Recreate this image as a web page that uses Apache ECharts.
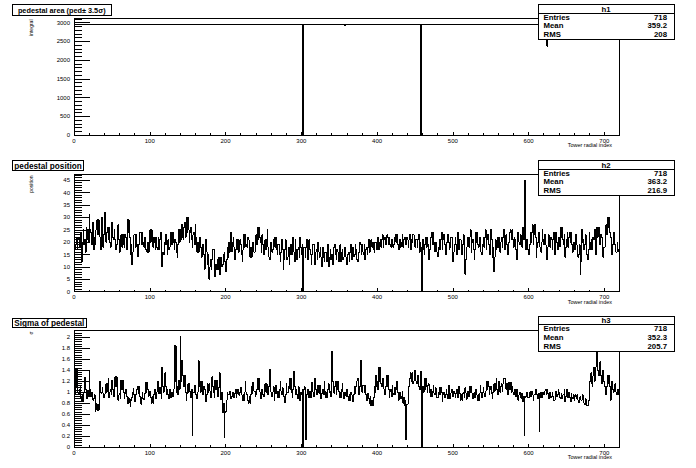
<!DOCTYPE html>
<html><head><meta charset="utf-8">
<script src="https://cdn.jsdelivr.net/npm/echarts@6/dist/echarts.min.js"></script>
<style>html,body{margin:0;padding:0;background:#fff}#c{width:696px;height:468px}
#c svg path{shape-rendering:crispEdges}</style>
</head><body><div id="c"></div>
<script>
// ---------- data ----------
const xRange = [0, 720];
const titles = ['pedestal area (ped\u00b1 3.5\u03c3)', 'pedestal position', 'Sigma of pedestal'];
const yTitles = ['integral', 'position', '\u03c3'];
const xTitle = 'Tower radial index';
const statNames = ['h1', 'h2', 'h3'];
const statEntries = ['718', '718', '718'];
const statMeans = ['359.2', '363.2', '352.3'];
const statRMS = ['208', '216.9', '205.7'];
const yMax = [3110, 47.3, 2.122];
const yStep = [500, 5, 0.2];

// panel 1: [from, to, value] runs of tower index
const areaRuns = [
  [0, 302, 2955], [302, 303, 0], [303, 357, 2955], [357, 358, 2925],
  [358, 458, 2955], [458, 459, 0], [459, 624, 2955], [624, 625, 2370], [625, 718, 2955]
];

// panels 2 and 3: one value per tower index (0..719)
const binWidth = 1;
const positionValues = [
  21,17,19,22,17,21,22,18,21,24,12,20,25,19,21,16,26,21,25,20,
  31,25,24,19,24,28,17,22,19,25,29,23,29,24,22,17,30,24,18,23,
  32,25,20,24,26,21,26,20,18,23,28,22,21,25,21,17,19,24,27,21,
  16,21,23,18,23,19,18,23,22,17,29,24,29,22,15,19,11,16,19,23,
  23,18,23,19,14,19,20,24,24,19,24,20,18,22,21,17,16,20,16,21,
  25,20,25,19,18,22,20,17,22,18,17,22,17,21,24,18,10,16,15,20,
  19,23,19,15,21,17,18,22,24,19,24,20,17,21,20,16,14,19,25,20,
  25,21,27,22,21,26,28,22,30,24,30,25,20,24,26,21,18,23,24,19,
  27,22,16,20,16,21,22,18,14,18,19,15,9,14,21,16,11,15,5,10,
  13,9,13,17,17,12,6,11,9,13,9,14,7,11,14,10,11,15,16,12,
  8,13,18,14,20,16,20,24,16,20,22,18,13,17,21,17,21,16,17,21,
  19,15,12,17,23,18,23,19,18,22,21,17,14,18,14,19,20,16,16,20,
  23,19,26,21,26,22,20,16,23,19,15,19,21,17,21,25,18,14,13,17,
  20,16,17,21,22,18,22,17,15,19,19,15,12,16,21,17,9,13,17,21,
  17,13,14,18,11,15,19,15,19,22,16,12,21,17,13,17,18,14,22,18,
  15,19,0,18,18,14,18,21,13,17,21,17,15,11,15,19,19,15,11,16,
  17,13,20,16,14,18,14,10,18,14,12,16,16,12,16,19,10,14,17,13,
  15,11,15,18,19,15,13,17,16,12,16,19,12,16,17,13,14,18,18,14,
  11,15,16,12,16,19,13,17,18,14,15,19,17,13,12,16,16,20,19,15,
  19,16,15,19,13,17,18,15,18,21,16,20,21,18,20,17,16,20,20,17,
  19,22,17,20,21,18,21,23,18,21,22,19,20,23,22,19,22,19,18,21,
  21,18,19,22,23,20,23,19,17,21,21,18,20,23,18,21,22,19,19,22,
  21,18,21,23,17,21,20,23,23,19,18,21,21,18,21,23,16,20,18,0,
  21,17,15,19,22,18,22,19,13,17,18,22,24,19,24,20,16,20,20,16,
  14,18,21,17,21,24,17,21,23,19,15,19,20,23,20,17,18,22,22,18,
  12,16,19,22,19,15,24,20,17,21,21,17,15,19,23,19,7,13,18,22,
  22,18,22,25,16,20,21,17,13,17,24,20,24,19,18,22,20,16,15,19,
  22,18,22,25,17,21,23,19,19,15,25,21,14,18,8,14,21,17,18,22,
  18,22,16,20,22,18,22,25,17,21,23,19,15,19,20,24,25,21,25,21,
  18,22,21,17,13,18,24,20,19,23,22,18,26,21,27,45,17,21,21,17,
  15,19,24,20,24,27,19,23,27,22,14,18,20,24,22,18,16,20,25,21,
  19,23,19,15,13,18,23,19,18,22,21,17,21,24,15,19,24,20,17,21,
  22,18,26,22,26,21,19,23,14,18,21,24,18,22,24,20,24,19,16,20,
  20,17,23,19,18,14,15,19,7,12,25,20,21,17,19,23,19,15,13,17,
  24,20,17,21,17,22,21,25,15,19,26,22,26,21,19,23,22,18,14,18,
  18,22,27,23,30,26,30,24,22,18,15,19,24,20,19,16,16,20,17,16
];
const sigmaValues = [
  1.05,0.95,1.42,1.1,1.42,1.0,0.95,1.05,1.1,0.9,0.82,0.95,0.82,1.0,1.27,1.05,0.97,0.88,1.03,0.92,
  1.38,1.05,0.92,1.0,0.92,0.85,0.88,0.95,0.65,0.8,0.67,0.78,0.67,0.9,1.2,1.0,0.98,1.08,0.98,0.9,
  0.96,1.05,1.15,1.0,1.15,1.25,0.9,1.0,1.05,0.95,1.22,1.05,0.92,1.0,1.28,1.1,1.28,1.0,0.85,0.95,
  0.98,0.88,1.22,1.05,1.22,1.0,0.88,0.98,1.05,0.92,0.8,0.9,0.8,0.88,0.74,0.85,0.9,1.0,1.07,0.95,
  0.83,0.95,0.95,1.05,1.1,0.98,1.1,0.92,0.78,0.9,1.0,0.88,0.86,0.97,1.18,1.0,1.18,1.05,0.92,1.02,
  1.02,0.9,0.8,0.92,0.8,0.95,1.05,0.92,0.88,1.0,1.2,1.05,0.97,1.08,0.97,0.88,1.45,1.1,1.0,1.12,
  1.35,1.1,0.95,1.05,0.95,0.88,1.05,0.92,0.9,1.0,0.92,1.05,1.84,1.2,1.84,1.0,1.1,0.95,1.22,1.05,
  2.02,1.2,1.57,1.3,1.3,1.1,1.3,1.0,0.85,0.98,1.15,1.0,1.15,1.02,0.9,1.05,0.21,1.0,1.0,1.12,
  1.1,0.95,0.88,1.0,1.57,1.1,1.2,1.0,1.2,1.05,0.95,1.1,1.05,0.9,0.82,0.95,1.15,1.0,1.15,1.02,
  0.9,1.05,1.28,1.1,1.0,0.9,1.22,1.05,1.22,1.0,0.92,1.08,1.35,1.1,0.86,1.0,0.62,0.8,0.17,0.62,
  0.65,0.85,1.0,0.95,0.95,1.02,0.95,0.88,0.92,1.0,0.97,0.9,0.97,1.05,0.9,0.98,1.05,0.95,0.94,1.0,
  1.08,0.95,0.85,0.95,0.85,1.0,1.2,1.0,0.95,0.85,0.8,0.92,0.8,0.95,1.1,0.98,1.18,1.02,1.02,0.92,
  0.95,1.05,1.25,1.05,1.25,1.0,0.88,1.0,1.05,0.95,0.92,1.05,1.15,1.0,1.15,1.02,0.95,1.1,1.41,1.1,
  1.0,0.92,1.0,1.1,0.85,0.98,1.12,0.98,0.9,1.02,0.9,1.05,1.2,1.02,0.95,1.08,1.05,0.92,0.8,0.95,
  1.15,1.0,1.0,1.1,1.25,1.05,1.25,1.0,0.9,1.05,1.38,1.1,0.95,1.05,0.95,0.88,1.1,0.98,0.85,1.0,
  0.95,1.05,0,1.05,1.1,0.95,0.13,0.95,1.05,0.92,0.9,1.02,0.9,1.05,1.18,1.0,0.92,1.05,1.25,1.05,
  0.95,1.05,1.12,0.98,1.12,1.0,0.88,0.98,1.05,0.95,1.2,1.02,0.9,1.0,0.9,1.05,1.15,1.0,1.02,0.92,
  1.75,1.2,1.1,0.98,1.1,1.2,0.95,1.05,1.2,1.02,0.9,1.0,0.9,1.05,1.15,1.0,0.88,1.0,1.0,0.92,
  1.05,0.92,0.85,0.95,0.85,1.0,0.95,0.88,0.82,0.95,1.1,0.98,1.1,1.2,1.25,1.05,0.95,1.1,1.58,1.2,
  1.0,1.12,1.12,1.0,1.12,0.95,0.85,0.98,0.98,0.88,0.8,0.92,0.75,0.85,0.75,0.9,1.1,1.0,1.3,1.1,
  1.2,1.05,1.45,1.2,1.45,1.15,1.1,1.25,1.25,1.05,0.95,1.1,1.3,1.1,1.3,1.05,0.9,1.02,1.05,0.92,
  1.12,0.98,0.95,1.08,0.95,1.05,1.2,1.0,0.85,0.98,1.0,0.88,0.92,1.02,0.8,0.9,0.75,0.85,0.13,0.78,
  0.78,0.9,1.1,1.25,1.35,1.2,1.35,1.15,1.2,1.35,1.4,1.2,1.15,1.3,1.3,1.1,1.05,1.2,1.38,0,
  1.1,1.0,1.25,1.05,1.25,1.1,1.0,1.12,1.15,1.0,0.92,1.05,0.92,1.02,1.12,0.98,0.95,1.08,1.0,0.9,
  0.9,1.0,1.08,0.95,1.08,1.0,0.82,0.95,1.0,0.9,0.95,1.05,0.95,0.88,1.12,1.0,0.88,0.98,1.05,0.95,
  0.92,1.02,0.98,0.9,0.98,1.05,0.9,1.0,1.1,0.98,0.85,0.95,0.85,0.98,1.0,0.9,1.08,0.98,0.87,0.97,
  1.02,0.92,1.1,1.0,1.1,0.98,0.88,0.98,1.0,0.9,1.05,0.95,0.85,0.95,0.85,0.98,1.12,1.0,0.9,1.0,
  1.08,0.98,0.92,1.02,1.2,1.05,1.2,1.1,0.95,1.05,1.1,0.98,0.88,1.0,1.15,1.02,1.15,1.25,1.05,0.95,
  1.2,1.05,1.0,1.1,1.15,1.02,1.15,1.25,1.25,1.1,1.05,1.15,0.95,1.05,1.18,1.05,1.18,1.0,1.1,1.0,
  0.95,1.05,1.05,0.92,1.05,0.95,0.85,0.95,1.0,0.9,0.88,0.98,0.82,0.92,0.21,0.9,0.92,1.0,1.0,0.9,
  0.9,1.0,1.02,0.92,1.02,0.95,0.85,0.95,0.95,1.05,1.05,0.95,0.88,0.98,0.28,0.9,1.0,0.9,0.9,1.0,
  0.95,1.02,1.05,0.95,1.05,0.98,0.88,0.98,1.0,0.9,0.92,1.0,0.92,0.85,0.85,0.95,1.02,0.92,0.95,1.05,
  1.0,0.9,0.88,0.98,0.88,0.95,0.95,1.05,0.82,0.92,1.05,0.95,0.9,1.0,0.9,0.82,0.98,0.9,0.88,0.95,
  0.85,0.92,0.95,0.88,0.95,0.85,0.8,0.9,0.92,0.85,0.86,0.95,0.86,0.8,0.78,0.88,0.82,0.75,0.76,0.85,
  1.0,1.2,1.35,1.15,1.1,1.3,1.45,1.2,1.45,1.6,1.73,1.4,1.3,1.45,1.55,1.3,1.15,1.3,1.4,1.2,
  1.1,0.98,0.95,1.1,1.3,1.15,1.3,1.1,0.85,1.0,1.2,1.05,1.0,1.12,1.15,1.0,0.95,1.05,0.95,1.05
];

// ---------- build step data ----------
function runsToSteps(runs){
  const pts = runs.map(r => [r[0], r[2]]);
  const last = runs[runs.length - 1];
  pts.push([last[1], last[2]]);
  return pts;
}
function binsToSteps(vals, w){
  const pts = vals.map((v, i) => [i * w, v]);
  pts.push([vals.length * w, vals[vals.length - 1]]);
  return pts;
}
const seriesData = [runsToSteps(areaRuns), binsToSteps(positionValues, binWidth), binsToSteps(sigmaValues, binWidth)];

// ---------- layout ----------
const FONT = '"Liberation Sans", Arial, sans-serif';
const gridTop = [18.5, 174.5, 330.5];
const gridH = [116.5, 117.2, 116.5];
const frameL = 74, frameR = 619.5;
const titleFont = [7.3, 8.2, 8.2];

const grids = [], xAxes = [], yAxes = [], series = [], graphics = [];
for (let g = 0; g < 3; g++) {
  grids.push({left: frameL, top: gridTop[g], width: frameR - frameL, height: gridH[g],
    show: true, borderColor: '#000', borderWidth: 1, backgroundColor: 'transparent'});
  xAxes.push({type: 'value', gridIndex: g, min: xRange[0], max: xRange[1], interval: 100,
    axisLine: {show: true, lineStyle: {color: '#000', width: 1}},
    axisTick: {show: true, inside: true, length: 3.5, lineStyle: {color: '#000', width: 1}},
    minorTick: {show: true, splitNumber: 5, length: 1.8, lineStyle: {color: '#000', width: 1}},
    axisLabel: {fontSize: 6, color: '#000', margin: 2.5, fontFamily: FONT, showMaxLabel: false,
      formatter: v => String(v)},
    splitLine: {show: false}, minorSplitLine: {show: false}});
  yAxes.push({type: 'value', gridIndex: g, min: 0, max: yMax[g], interval: yStep[g],
    axisLine: {show: true, lineStyle: {color: '#000', width: 1}},
    axisTick: {show: true, inside: true, length: 16, lineStyle: {color: '#000', width: 1}},
    minorTick: {show: true, splitNumber: 5, length: 8, lineStyle: {color: '#000', width: 1}},
    axisLabel: {fontSize: 6, color: '#000', margin: 4, fontFamily: FONT, showMaxLabel: false,
      formatter: v => String(+(+v).toFixed(6))},
    splitLine: {show: false}, minorSplitLine: {show: false}});
  series.push({type: 'line', xAxisIndex: g, yAxisIndex: g, data: seriesData[g], step: 'end',
    showSymbol: false, symbol: 'none', lineStyle: {color: '#000', width: 1}, silent: true, z: 3});

  // title box
  const tb = [[12.5, 4.5, 98.5, 10.5], [12.5, 160.5, 71, 10], [12.5, 318.5, 73.5, 8.5]][g];
  graphics.push({type: 'rect', shape: {x: tb[0], y: tb[1], width: tb[2], height: tb[3]},
    style: {fill: '#fff', stroke: '#000', lineWidth: 1}, z: 100});
  graphics.push({type: 'text', style: {x: tb[0] + tb[2] / 2, y: tb[1] + tb[3] / 2 + 0.5, text: titles[g],
    font: 'bold ' + titleFont[g] + 'px ' + FONT, fill: '#000', textAlign: 'center', textVerticalAlign: 'middle'}, z: 101});

  // stats box
  const sy = [4.5, 160.5, 316][g];
  graphics.push({type: 'rect', shape: {x: 538.5, y: sy, width: 136, height: 35},
    style: {fill: '#fff', stroke: '#000', lineWidth: 1}, z: 100});
  graphics.push({type: 'line', shape: {x1: 538.5, y1: sy + 8.8, x2: 674.5, y2: sy + 8.8},
    style: {stroke: '#000', lineWidth: 1}, z: 101});
  graphics.push({type: 'text', style: {x: 606, y: sy + 4.8, text: statNames[g], font: 'bold 7.8px ' + FONT,
    fill: '#000', textAlign: 'center', textVerticalAlign: 'middle'}, z: 102});
  const rowsL = ['Entries', 'Mean', 'RMS'];
  const rowsR = [statEntries[g], statMeans[g], statRMS[g]];
  for (let r = 0; r < 3; r++) {
    const yy = sy + 12.6 + r * 8.8;
    graphics.push({type: 'text', style: {x: 543.5, y: yy, text: rowsL[r], font: 'bold 7.8px ' + FONT,
      fill: '#000', textAlign: 'left', textVerticalAlign: 'middle'}, z: 102});
    graphics.push({type: 'text', style: {x: 667, y: yy, text: rowsR[r], font: 'bold 7.8px ' + FONT,
      fill: '#000', textAlign: 'right', textVerticalAlign: 'middle'}, z: 102});
  }
  // axis titles
  graphics.push({type: 'text', x: 31, y: gridTop[g] + 1, rotation: Math.PI / 2,
    style: {x: 0, y: 0, text: yTitles[g], font: '5px ' + FONT, fill: '#000', textAlign: 'right', textVerticalAlign: 'middle'}, z: 102});
  graphics.push({type: 'text', style: {x: 612, y: gridTop[g] + gridH[g] + 10, text: xTitle,
    font: '5.5px ' + FONT, fill: '#000', textAlign: 'right', textVerticalAlign: 'middle'}, z: 102});
}

const chart = echarts.init(document.getElementById('c'), null, {renderer: 'svg'});
chart.setOption({
  animation: false, backgroundColor: '#fff',
  grid: grids, xAxis: xAxes, yAxis: yAxes, series: series, graphic: graphics
});
</script></body></html>
